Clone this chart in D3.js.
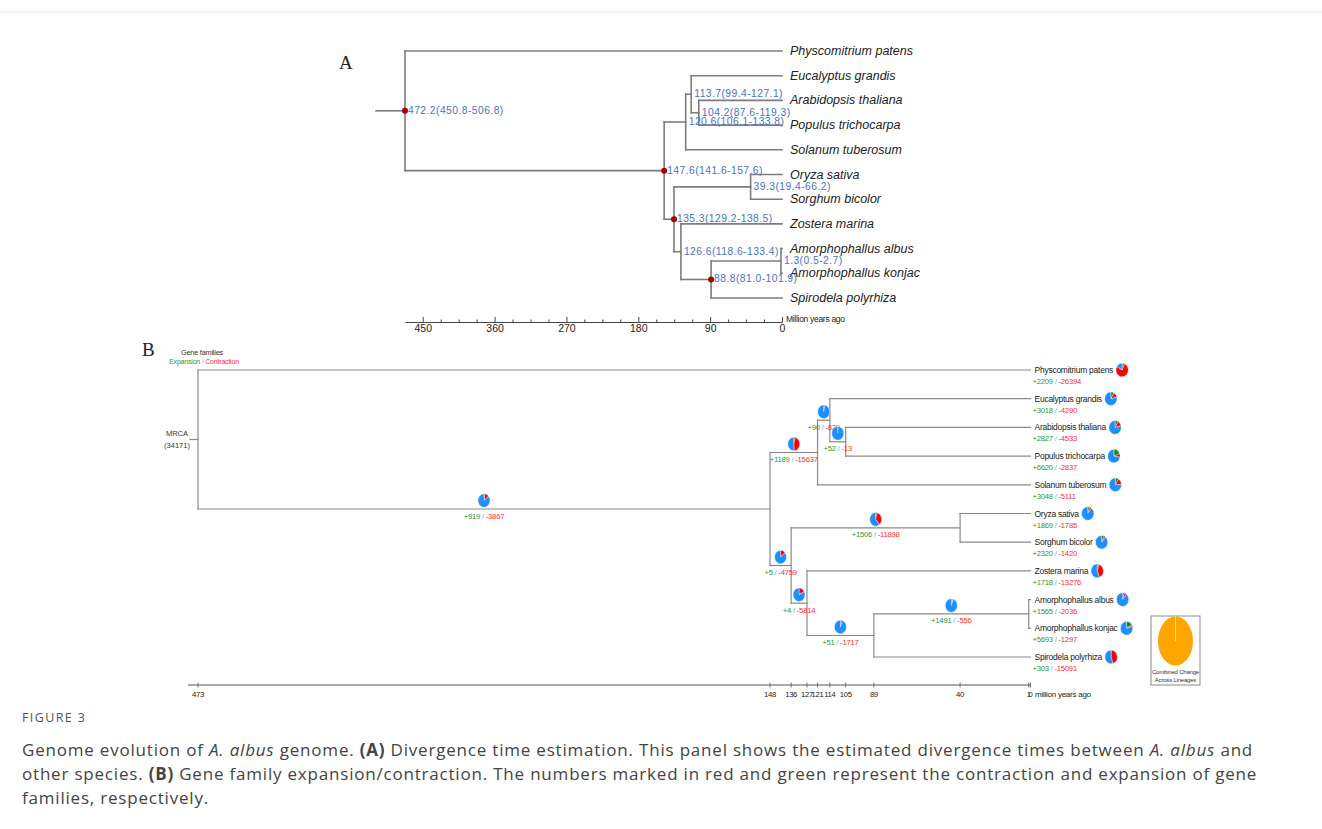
<!DOCTYPE html>
<html>
<head>
<meta charset="utf-8">
<script src="https://cdn.jsdelivr.net/npm/d3@7"></script>
<style>
  body { margin: 0; background: #fff; }
  svg { display: block; font-family: "Liberation Sans", Arial, sans-serif; }
</style>
</head>
<body>
<svg id="fig" width="1322" height="829"></svg>
<script>
// --- species (leaf order, top to bottom) ---
const species = [
  "Physcomitrium patens", "Eucalyptus grandis", "Arabidopsis thaliana",
  "Populus trichocarpa", "Solanum tuberosum", "Oryza sativa", "Sorghum bicolor",
  "Zostera marina", "Amorphophallus albus", "Amorphophallus konjac", "Spirodela polyrhiza"
];

// --- tree topology: internal nodes and their two children ---
const internalNodes = ["root", "angiosperms", "eudicots", "rosids", "arabPop",
  "monocots", "poaceae", "alismatales", "araceae", "amorphophallus"];
const internalChildren = [
  ["Physcomitrium patens", "angiosperms"],
  ["eudicots", "monocots"],
  ["rosids", "Solanum tuberosum"],
  ["Eucalyptus grandis", "arabPop"],
  ["Arabidopsis thaliana", "Populus trichocarpa"],
  ["poaceae", "alismatales"],
  ["Oryza sativa", "Sorghum bicolor"],
  ["Zostera marina", "araceae"],
  ["amorphophallus", "Spirodela polyrhiza"],
  ["Amorphophallus albus", "Amorphophallus konjac"]
];

// --- panel A: divergence times (same order as internalNodes) ---
const divAges = [472.2, 147.6, 120.6, 113.7, 104.2, 135.3, 39.3, 126.6, 88.8, 1.3];
const divCI = ["450.8-506.8", "141.6-157.6", "106.1-133.8", "99.4-127.1", "87.6-119.3",
  "129.2-138.5", "19.4-66.2", "118.6-133.4", "81.0-101.9", "0.5-2.7"];
const calibratedNodes = ["root", "angiosperms", "monocots", "araceae"];
const ticksA = [450, 360, 270, 180, 90, 0];
const minorTicksA = [427.5, 405, 382.5, 337.5, 315, 292.5, 247.5, 225, 202.5, 157.5, 135, 112.5, 67.5, 45, 22.5];

// --- panel B: CAFE tree ages (same order as internalNodes) ---
const cafeAges = [473, 148, 121, 114, 105, 136, 40, 127, 89, 1];
const ticksB = [473, 148, 136, 127, 121, 114, 105, 89, 40, 1, 0];
const mrcaFamilies = 34171;

// gene family gains / losses on the branch leading to each internal node (root excluded)
const branchNodes = ["angiosperms", "eudicots", "rosids", "arabPop", "monocots",
  "poaceae", "alismatales", "araceae", "amorphophallus"];
const branchGain = [919, 1189, 90, 52, 5, 1506, 4, 51, 1491];
const branchLoss = [3867, 15637, 829, 13, 4759, 11898, 5814, 1717, 556];

// gains / losses on terminal branches (same order as species)
const leafGain = [2209, 3018, 2827, 6620, 3048, 1869, 2320, 1718, 1565, 5693, 303];
const leafLoss = [26394, 4290, 4533, 2837, 5111, 1785, 1420, 13276, 2036, 1297, 15091];

const svg = d3.select("#fig");
const COL_GAIN = "#2e9a2e", COL_LOSS = "#ff3030", COL_SLASH = "#6aaef5";
const PIE_COLS = ["#138a13", "#ff0000", "#1e8fff"];

// faint rule at top of page
svg.append("line").attr("x1", 0).attr("x2", 1322).attr("y1", 12).attr("y2", 12)
  .attr("stroke", "#e2e2e2").attr("stroke-width", 1);

function buildTree(ages, yScale) {
  const ageOf = new Map(internalNodes.map((n, i) => [n, ages[i]]));
  const kids = new Map(internalNodes.map((n, i) => [n, internalChildren[i]]));
  const root = d3.hierarchy("root", id => kids.get(id));
  root.each(d => { d.age = ageOf.has(d.data) ? ageOf.get(d.data) : 0; });
  root.eachAfter(d => {
    if (!d.children) d.y = yScale(d.data);
    else d.y = (d.children[0].y + d.children[d.children.length - 1].y) / 2;
  });
  return root;
}

function drawBranches(g, root, x, stroke, width) {
  root.descendants().forEach(d => {
    if (d.parent) {
      g.append("line").attr("x1", x(d.parent.age)).attr("x2", x(d.age))
        .attr("y1", d.y).attr("y2", d.y);
    }
    if (d.children) {
      g.append("line").attr("x1", x(d.age)).attr("x2", x(d.age))
        .attr("y1", d.children[0].y).attr("y2", d.children[d.children.length - 1].y);
    }
  });
  g.selectAll("line").attr("stroke", stroke).attr("stroke-width", width).attr("stroke-linecap", "square");
}

// ================= PANEL A =================
const gA = svg.append("g");
gA.append("text").attr("x", 339).attr("y", 69).text("A")
  .attr("font-family", "Liberation Serif, serif").attr("font-size", 19).attr("fill", "#222");

const xA = d3.scaleLinear().domain([472.2, 0]).range([405, 782]);
const yA = d3.scalePoint().domain(species).range([51, 298]);
const treeA = buildTree(divAges, yA);

const branchA = gA.append("g");
branchA.append("line").attr("x1", 376).attr("x2", xA(treeA.age)).attr("y1", treeA.y).attr("y2", treeA.y);
drawBranches(branchA, treeA, xA, "#7d7d7d", 1.6);

gA.append("g").selectAll("text").data(treeA.leaves()).join("text")
  .attr("x", xA(0) + 8).attr("y", d => d.y).attr("dominant-baseline", "central")
  .attr("font-size", 12.5).attr("font-style", "italic").attr("fill", "#222")
  .text(d => d.data);

const innerA = treeA.descendants().filter(d => d.children);
gA.append("g").selectAll("circle").data(innerA.filter(d => calibratedNodes.includes(d.data))).join("circle")
  .attr("cx", d => xA(d.age)).attr("cy", d => d.y).attr("r", 3).attr("fill", "#a30000");
gA.append("g").selectAll("text").data(innerA).join("text")
  .attr("x", d => xA(d.age) + 3).attr("y", d => d.y - 0.5).attr("dominant-baseline", "central")
  .attr("font-size", 10.3).attr("fill", "#4a72c8").attr("letter-spacing", 0.45)
  .text(d => `${d.age.toFixed(1)}(${divCI[internalNodes.indexOf(d.data)]})`);

const axA = gA.append("g").attr("transform", "translate(0,322)");
axA.call(d3.axisBottom(xA).tickValues(ticksA).tickSizeInner(-5).tickSizeOuter(0).tickPadding(3));
axA.append("g").call(d3.axisBottom(xA).tickValues(minorTicksA).tickSizeInner(-2.5).tickSizeOuter(0).tickFormat(""))
  .select(".domain").remove();
axA.selectAll("path, line").attr("stroke", "#444");
axA.selectAll("text").attr("font-size", 10.5).attr("fill", "#222").attr("font-family", "Liberation Sans, Arial, sans-serif");
gA.append("text").attr("x", 786).attr("y", 319).attr("dominant-baseline", "central")
  .attr("font-size", 8.5).attr("fill", "#222").attr("letter-spacing", -0.3).text("Million years ago");

// ================= PANEL B =================
const gB = svg.append("g");
gB.append("text").attr("x", 142).attr("y", 356).text("B")
  .attr("font-family", "Liberation Serif, serif").attr("font-size", 19).attr("fill", "#222");

gB.append("text").attr("x", 202).attr("y", 352).attr("text-anchor", "middle").attr("dominant-baseline", "central")
  .attr("font-size", 7.3).attr("fill", "#333").attr("letter-spacing", -0.2).text("Gene families");
const legT = gB.append("text").attr("x", 204).attr("y", 361).attr("text-anchor", "middle")
  .attr("dominant-baseline", "central").attr("font-size", 7).attr("letter-spacing", -0.2);
legT.append("tspan").attr("fill", COL_GAIN).text("Expansion ");
legT.append("tspan").attr("fill", COL_SLASH).text("/ ");
legT.append("tspan").attr("fill", COL_LOSS).text("Contraction");

const xB = d3.scaleLinear().domain([473, 0]).range([198, 1030.5]);
const yB = d3.scalePoint().domain(species).range([370, 657]);
const treeB = buildTree(cafeAges, yB);

const branchB = gB.append("g");
branchB.append("line").attr("x1", 190).attr("x2", xB(treeB.age)).attr("y1", treeB.y).attr("y2", treeB.y);
drawBranches(branchB, treeB, xB, "#8a8a8a", 1.2);

gB.append("text").attr("x", 177).attr("y", 433).attr("text-anchor", "middle").attr("dominant-baseline", "central")
  .attr("font-size", 7.5).attr("fill", "#333").text("MRCA");
gB.append("text").attr("x", 177).attr("y", 445).attr("text-anchor", "middle").attr("dominant-baseline", "central")
  .attr("font-size", 7.5).attr("fill", "#333").text(`(${mrcaFamilies})`);

const pie = d3.pie().sort(null).value(v => v);
function drawPie(g, cx, cy, gain, loss, rx, ry) {
  const p = g.append("g").attr("transform", `translate(${cx},${cy}) scale(1,${ry / rx})`);
  const arc = d3.arc().innerRadius(0).outerRadius(rx);
  p.selectAll("path").data(pie([gain, loss, mrcaFamilies - gain - loss])).join("path")
    .attr("d", arc).attr("fill", (d, i) => PIE_COLS[i])
    .attr("stroke", "#fff").attr("stroke-width", 0.35);
}

function countLabel(g, x, y, gain, loss, anchor) {
  const t = g.append("text").attr("x", x).attr("y", y).attr("text-anchor", anchor)
    .attr("dominant-baseline", "central").attr("font-size", 7.7).attr("letter-spacing", -0.25);
  t.append("tspan").attr("fill", COL_GAIN).text(`+${gain} `);
  t.append("tspan").attr("fill", COL_SLASH).text("/ ");
  t.append("tspan").attr("fill", COL_LOSS).text(`-${loss}`);
}

// internal branch annotations
const annB = gB.append("g");
branchNodes.forEach((id, i) => {
  const d = treeB.descendants().find(n => n.data === id);
  const mx = (xB(d.parent.age) + xB(d.age)) / 2;
  drawPie(annB, mx, d.y - 8.5, branchGain[i], branchLoss[i], 6, 6.8);
  countLabel(annB, mx, d.y + 6.5, branchGain[i], branchLoss[i], "middle");
});

// leaves
const leafB = gB.append("g");
treeB.leaves().forEach(d => {
  const i = species.indexOf(d.data);
  const t = leafB.append("text").attr("x", xB(0) + 4).attr("y", d.y).attr("dominant-baseline", "central")
    .attr("font-size", 8.5).attr("fill", "#222").attr("letter-spacing", -0.25).text(d.data);
  const len = t.node().getComputedTextLength();
  drawPie(leafB, xB(0) + 4 + len + 9, d.y, leafGain[i], leafLoss[i], 6.2, 6.8);
  countLabel(leafB, xB(0) + 2, d.y + 11, leafGain[i], leafLoss[i], "start");
});

// time axis
const axB = gB.append("g").attr("transform", "translate(0,685)");
axB.append("line").attr("x1", 188).attr("x2", xB(0)).attr("stroke", "#555").attr("stroke-width", 1);
axB.selectAll("line.tk").data(ticksB).join("line").attr("class", "tk")
  .attr("x1", d => xB(d)).attr("x2", d => xB(d)).attr("y1", -2.5).attr("y2", 2.5)
  .attr("stroke", "#555").attr("stroke-width", 0.8);
axB.selectAll("text").data(ticksB).join("text")
  .attr("x", d => xB(d)).attr("y", 9.5).attr("text-anchor", "middle").attr("dominant-baseline", "central")
  .attr("font-size", 7.7).attr("fill", "#222").attr("letter-spacing", -0.3).text(d => d);
gB.append("text").attr("x", 1035).attr("y", 694.5).attr("dominant-baseline", "central")
  .attr("font-size", 8).attr("fill", "#222").attr("letter-spacing", -0.25).text("million years ago");

// combined change box
const cb = gB.append("g");
cb.append("rect").attr("x", 1151).attr("y", 616).attr("width", 49).attr("height", 69)
  .attr("fill", "#fff").attr("stroke", "#8a8a8a").attr("stroke-width", 1);
cb.append("ellipse").attr("cx", 1175.5).attr("cy", 641).attr("rx", 17.5).attr("ry", 24.5).attr("fill", "#ffa500");
cb.append("line").attr("x1", 1175.5).attr("x2", 1175.5).attr("y1", 641).attr("y2", 616.5)
  .attr("stroke", "#fff").attr("stroke-width", 0.6);
cb.append("text").attr("x", 1175.5).attr("y", 672).attr("text-anchor", "middle").attr("dominant-baseline", "central")
  .attr("font-size", 6).attr("fill", "#333").attr("letter-spacing", -0.2).text("Combined Change");
cb.append("text").attr("x", 1175.5).attr("y", 680).attr("text-anchor", "middle").attr("dominant-baseline", "central")
  .attr("font-size", 6).attr("fill", "#333").attr("letter-spacing", -0.2).text("Across Lineages");

// ================= CAPTION =================
const cap = svg.append("g").attr("font-family", "'Open Sans', 'Noto Sans', sans-serif");
cap.append("text").attr("x", 22).attr("y", 717).attr("dominant-baseline", "central")
  .attr("font-size", 12.5).attr("fill", "#555").attr("letter-spacing", 1.4).text("FIGURE 3");

const captionLines = [
  [["Genome evolution of ", ""], ["A. albus", "i"], [" genome. ", ""], ["(A)", "b"],
   [" Divergence time estimation. This panel shows the estimated divergence times between ", ""],
   ["A. albus", "i"], [" and", ""]],
  [["other species. ", ""], ["(B)", "b"],
   [" Gene family expansion/contraction. The numbers marked in red and green represent the contraction and expansion of gene", ""]],
  [["families, respectively.", ""]]
];
captionLines.forEach((parts, li) => {
  const t = cap.append("text").attr("x", 22).attr("y", 749 + li * 24).attr("dominant-baseline", "central")
    .attr("font-size", 17).attr("fill", "#444").attr("letter-spacing", 0.8).attr("xml:space", "preserve");
  parts.forEach(([s, st]) => {
    const ts = t.append("tspan").text(s);
    if (st === "i") ts.attr("font-style", "italic");
    if (st === "b") ts.attr("font-weight", "bold");
  });
});
</script>
</body>
</html>
